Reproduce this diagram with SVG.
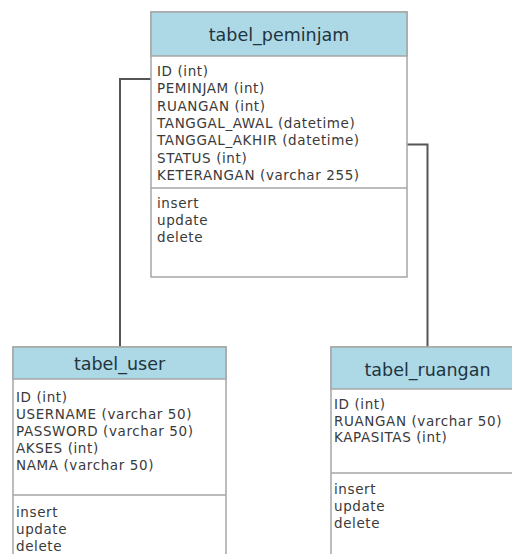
<svg xmlns="http://www.w3.org/2000/svg" width="512" height="554" viewBox="0 0 512 554">
<style>
.box{fill:#ffffff;stroke:#a6a6a6;stroke-width:1.5}
.hdr{fill:#add8e6;stroke:#a6a6a6;stroke-width:1.5}
.div{stroke:#a6a6a6;stroke-width:1.5;fill:none}
.title{font-family:"DejaVu Sans",Verdana,sans-serif;font-size:17.5px;fill:#1e3440;text-anchor:middle}
.f{font-family:"DejaVu Sans",Verdana,sans-serif;font-size:13.5px;letter-spacing:0.6px;fill:#3a3a3a}
.conn{stroke:#555555;stroke-width:2;fill:none}
</style>
<rect width="512" height="554" fill="#ffffff"/>
<g id="connectors">
<polyline class="conn" points="151,79 120,79 120,347"/>
<polyline class="conn" points="407,144.5 427.5,144.5 427.5,347"/>
</g>
<g id="tabel_peminjam">
<rect class="box" x="151" y="12" width="256" height="265"/>
<rect class="hdr" x="151" y="12" width="256" height="44"/>
<text class="title" x="279" y="40.5">tabel_peminjam</text>
<text class="f" x="157" y="76">ID (int)</text>
<text class="f" x="157" y="93.3">PEMINJAM (int)</text>
<text class="f" x="157" y="110.6">RUANGAN (int)</text>
<text class="f" x="157" y="127.9">TANGGAL_AWAL (datetime)</text>
<text class="f" x="157" y="145.2">TANGGAL_AKHIR (datetime)</text>
<text class="f" x="157" y="162.5">STATUS (int)</text>
<text class="f" x="157" y="179.8">KETERANGAN (varchar 255)</text>
<line class="div" x1="151" y1="188" x2="407" y2="188"/>
<text class="f" x="157" y="207.5">insert</text>
<text class="f" x="157" y="224.5">update</text>
<text class="f" x="157" y="241.5">delete</text>
</g>
<g id="tabel_user">
<rect class="box" x="13" y="347" width="213" height="215"/>
<rect class="hdr" x="13" y="347" width="213" height="32"/>
<text class="title" x="119.5" y="370">tabel_user</text>
<text class="f" x="16" y="401.5">ID (int)</text>
<text class="f" x="16" y="418.5">USERNAME (varchar 50)</text>
<text class="f" x="16" y="435.5">PASSWORD (varchar 50)</text>
<text class="f" x="16" y="452.5">AKSES (int)</text>
<text class="f" x="16" y="469.5">NAMA (varchar 50)</text>
<line class="div" x1="13" y1="495" x2="226" y2="495"/>
<text class="f" x="16" y="516.5">insert</text>
<text class="f" x="16" y="533.5">update</text>
<text class="f" x="16" y="550.5">delete</text>
</g>
<g id="tabel_ruangan">
<rect class="box" x="331" y="347" width="190" height="215"/>
<rect class="hdr" x="331" y="347" width="190" height="42"/>
<text class="title" x="427.5" y="376">tabel_ruangan</text>
<text class="f" x="334" y="409">ID (int)</text>
<text class="f" x="334" y="425.5">RUANGAN (varchar 50)</text>
<text class="f" x="334" y="442">KAPASITAS (int)</text>
<line class="div" x1="331" y1="473" x2="521" y2="473"/>
<text class="f" x="334" y="494">insert</text>
<text class="f" x="334" y="511">update</text>
<text class="f" x="334" y="527.5">delete</text>
</g>
</svg>
